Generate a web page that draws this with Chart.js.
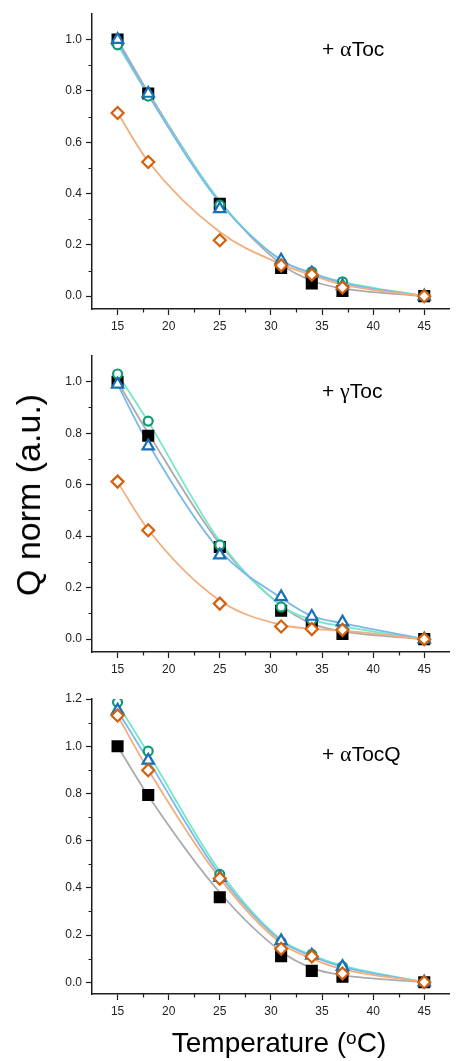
<!DOCTYPE html>
<html>
<head>
<meta charset="utf-8">
<script src="https://cdn.jsdelivr.net/npm/chart.js@4"></script>
<style>
  html, body { margin: 0; padding: 0; background: #fff; }
  body { width: 459px; height: 1061px; position: relative; overflow: hidden; font-family: "Liberation Sans", Arial, sans-serif; color: #000; }
  canvas { position: absolute; left: 0; }
  #ytitle { position: absolute; left: 28px; top: 495px; line-height: 34px; font-size: 34px; white-space: nowrap;
            transform: translate(-50%, -50%) rotate(-90deg); }
  #xtitle { position: absolute; left: 279px; top: 1029px; line-height: 28px; font-size: 28px; white-space: nowrap;
            transform: translateX(-50%); }
  #xtitle span { font-size: 19px; position: relative; top: -8px; }
</style>
</head>
<body>
<canvas id="c1" width="459" height="340" style="top:0px"></canvas>
<canvas id="c2" width="459" height="340" style="top:340px"></canvas>
<canvas id="c3" width="459" height="381" style="top:680px"></canvas>
<div id="ytitle">Q norm (a.u.)</div>
<div id="xtitle">Temperature (<span>o</span>C)</div>
<script>
// temperatures (°C)
const temps = [15, 18, 25, 31, 34, 37, 45]
const xTicks = [15, 20, 25, 30, 35, 40, 45]
const xMinor = [17.5, 22.5, 27.5, 32.5, 37.5, 42.5]

// panel 1: + αToc
const ctrl1 = [1.0, 0.79, 0.36, 0.11, 0.05, 0.02, 0.0]
const green1 = [0.98, 0.78, 0.355, 0.13, 0.095, 0.056, 0.0]
const blue1 = [1.0, 0.79, 0.34, 0.14, 0.09, 0.04, 0.0]
const orange1 = [0.714, 0.523, 0.218, 0.12, 0.084, 0.034, 0.0]
const ctrlFit1 = [1.0, 0.795, 0.37, 0.125, 0.06, 0.03, 0.0]
const greenFit1 = [0.98, 0.785, 0.37, 0.14, 0.09, 0.056, 0.0]
const blueFit1 = [0.99, 0.785, 0.365, 0.14, 0.09, 0.052, 0.0]
const orangeFit1 = [0.715, 0.525, 0.25, 0.125, 0.082, 0.045, 0.0]

// panel 2: + γToc
const ctrl2 = [1.0, 0.79, 0.358, 0.11, 0.06, 0.02, 0.0]
const green2 = [1.03, 0.847, 0.366, 0.125, 0.075, 0.055, 0.0]
const blue2 = [0.99, 0.75, 0.326, 0.164, 0.088, 0.066, 0.0]
const orange2 = [0.612, 0.423, 0.138, 0.049, 0.039, 0.036, 0.0]
const ctrlFit2 = [1.0, 0.80, 0.37, 0.13, 0.06, 0.03, 0.0]
const greenFit2 = [1.03, 0.845, 0.38, 0.13, 0.075, 0.05, 0.0]
const blueFit2 = [0.99, 0.76, 0.345, 0.16, 0.09, 0.062, 0.0]
const orangeFit2 = [0.61, 0.425, 0.15, 0.055, 0.04, 0.033, 0.0]

// panel 3: + αTocQ
const ctrl3 = [1.0, 0.793, 0.36, 0.11, 0.048, 0.023, 0.0]
const green3 = [1.186, 0.979, 0.457, 0.17, 0.118, 0.066, 0.0]
const blue3 = [1.152, 0.94, 0.443, 0.175, 0.114, 0.066, 0.0]
const orange3 = [1.13, 0.898, 0.439, 0.142, 0.109, 0.037, 0.0]
const ctrlFit3 = [1.0, 0.79, 0.38, 0.13, 0.06, 0.03, 0.0]
const greenFit3 = [1.18, 0.97, 0.47, 0.18, 0.115, 0.07, 0.0]
const blueFit3 = [1.15, 0.94, 0.455, 0.175, 0.11, 0.065, 0.0]
const orangeFit3 = [1.13, 0.90, 0.44, 0.165, 0.10, 0.055, 0.0]

const yTicks12 = [0, 0.2, 0.4, 0.6, 0.8, 1.0]
const yMinor12 = [0.1, 0.3, 0.5, 0.7, 0.9]
const yTicks3 = [0, 0.2, 0.4, 0.6, 0.8, 1.0, 1.2]
const yMinor3 = [0.1, 0.3, 0.5, 0.7, 0.9, 1.1]

const axisColor = '#1e1e1e'
const tickFont = { family: "'Liberation Sans', Arial, sans-serif", size: 12 }

const pts = (ys) => temps.map((t, i) => ({ x: t, y: ys[i] }))

// marker + fit line styles per series
const styles = {
  ctrl:   { line: '#ababab', mark: '#000000', fill: '#000000', shape: 'rect', r: 7, order: 4 },
  green:  { line: '#72e8c9', mark: '#0f9a76', fill: '#ffffff', shape: 'circle', r: 4.5, order: 3 },
  blue:   { line: '#79b9ee', mark: '#1a6fb5', fill: '#ffffff', shape: 'triangle', r: 6.5, order: 2 },
  orange: { line: '#f2ae7c', mark: '#d2600c', fill: '#ffffff', shape: 'rectRot', r: 6, order: 1 }
}

function fitSet(key, ys) {
  const s = styles[key]
  return { data: pts(ys), borderColor: s.line, borderWidth: 1.8, pointRadius: 0,
           cubicInterpolationMode: 'monotone', fill: false, order: 10 + s.order }
}
function markSet(key, ys) {
  const s = styles[key]
  return { data: pts(ys), showLine: false, pointStyle: s.shape, pointRadius: s.r,
           pointBorderColor: s.mark, pointBackgroundColor: s.fill, pointBorderWidth: 2.2, order: s.order }
}

const panelLabel = {
  id: 'panelLabel',
  afterDatasetsDraw(chart, args, opts) {
    const { ctx, scales: { x, y } } = chart
    let px = x.getPixelForValue(35)
    const py = y.getPixelForValue(opts.y)
    ctx.save()
    ctx.fillStyle = '#000'
    ctx.textBaseline = 'middle'
    ctx.textAlign = 'left'
    const parts = [['+ ', "21px 'Liberation Sans'"], [opts.greek, "22px 'Liberation Serif'"], [opts.rest, "21px 'Liberation Sans'"]]
    for (const [t, f] of parts) {
      ctx.font = f
      ctx.fillText(t, px, py)
      px += ctx.measureText(t).width
    }
    ctx.restore()
  }
}

const minorTicks = {
  id: 'minorTicks',
  afterDraw(chart, args, opts) {
    const { ctx, chartArea, scales: { x, y } } = chart
    ctx.save()
    ctx.strokeStyle = axisColor
    ctx.lineWidth = 1.2
    ctx.beginPath()
    for (const v of opts.x) {
      const p = Math.round(x.getPixelForValue(v)) + 0.5
      ctx.moveTo(p, chartArea.bottom); ctx.lineTo(p, chartArea.bottom + 3.5)
    }
    for (const v of opts.y) {
      const p = Math.round(y.getPixelForValue(v)) + 0.5
      ctx.moveTo(chartArea.left, p); ctx.lineTo(chartArea.left - 3.5, p)
    }
    ctx.stroke()
    ctx.restore()
  }
}

function makeChart(id, series, fits, yMax, yTicks, yMinor, padTop, xAxisH, greek, rest) {
  const keys = ['ctrl', 'green', 'blue', 'orange']
  const datasets = []
  keys.forEach((k, i) => datasets.push(fitSet(k, fits[i])))
  keys.forEach((k, i) => datasets.push(markSet(k, series[i])))
  return new Chart(document.getElementById(id), {
    type: 'line',
    data: { datasets: datasets },
    plugins: [panelLabel, minorTicks],
    options: {
      responsive: false,
      animation: false,
      layout: { padding: { top: padTop, right: 1, left: 0, bottom: 0 } },
      plugins: {
        legend: { display: false },
        tooltip: { enabled: false },
        panelLabel: { y: 0.96, greek: greek, rest: rest },
        minorTicks: { x: xMinor, y: yMinor }
      },
      scales: {
        x: {
          type: 'linear', min: 12.5, max: 47.5,
          afterBuildTicks: s => { s.ticks = xTicks.map(v => ({ value: v })) },
          afterFit: s => { s.height = xAxisH },
          grid: { drawOnChartArea: false, tickLength: 6, tickColor: axisColor, tickWidth: 1.2 },
          border: { color: axisColor, width: 1.5 },
          ticks: { font: tickFont, color: '#222', padding: 4, maxRotation: 0, callback: v => String(v) }
        },
        y: {
          type: 'linear', min: -0.05, max: yMax,
          afterBuildTicks: s => { s.ticks = yTicks.map(v => ({ value: v })) },
          afterFit: s => { s.width = 92 },
          grid: { drawOnChartArea: false, tickLength: 6, tickColor: axisColor, tickWidth: 1.2 },
          border: { color: axisColor, width: 1.5 },
          ticks: { font: tickFont, color: '#222', padding: 4, callback: v => v.toFixed(1) }
        }
      }
    }
  })
}

makeChart('c1', [ctrl1, green1, blue1, orange1], [ctrlFit1, greenFit1, blueFit1, orangeFit1],
          1.1, yTicks12, yMinor12, 14, 31, 'α', 'Toc')
makeChart('c2', [ctrl2, green2, blue2, orange2], [ctrlFit2, greenFit2, blueFit2, orangeFit2],
          1.1, yTicks12, yMinor12, 16, 28, 'γ', 'Toc')
makeChart('c3', [ctrl3, green3, blue3, orange3], [ctrlFit3, greenFit3, blueFit3, orangeFit3],
          1.2, yTicks3, yMinor3, 19, 67, 'α', 'TocQ')
</script>
</body>
</html>
